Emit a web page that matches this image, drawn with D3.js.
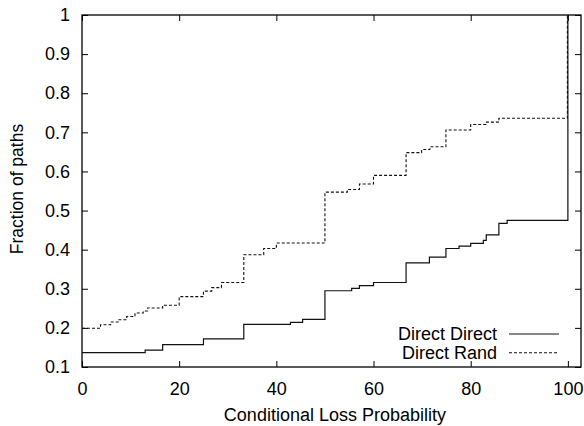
<!DOCTYPE html>
<html>
<head>
<meta charset="utf-8">
<script src="https://cdn.jsdelivr.net/npm/d3@7"></script>
<style>
  body { margin: 0; background: #fff; }
  svg text { font-family: "Liberation Sans", Arial, Helvetica, sans-serif; fill: #000; }
</style>
</head>
<body>
<div id="chart"></div>
<script>
// step data
var directDirectX = [0, 13.0, 16.6, 25.0, 33.3, 42.9, 45.4, 50.0, 55.5, 57.1, 60.0, 66.7, 71.5, 74.9, 77.6, 80.0, 82.6, 83.2, 85.8, 87.5, 100];
var directDirectY = [0.137, 0.143, 0.157, 0.172, 0.209, 0.214, 0.222, 0.295, 0.301, 0.308, 0.316, 0.366, 0.381, 0.403, 0.409, 0.416, 0.424, 0.438, 0.467, 0.475, 1.0];

var directRandX = [0, 3.8, 5.9, 7.6, 9.2, 10.9, 12.6, 13.5, 16.6, 20.0, 25.0, 26.7, 28.7, 33.3, 37.4, 40.0, 50.0, 54.6, 57.1, 60.0, 66.7, 69.9, 71.6, 74.9, 80.0, 83.1, 85.8, 99.9];
var directRandY = [0.199, 0.208, 0.215, 0.221, 0.229, 0.238, 0.243, 0.251, 0.258, 0.280, 0.294, 0.303, 0.316, 0.387, 0.403, 0.417, 0.547, 0.554, 0.568, 0.590, 0.648, 0.656, 0.663, 0.706, 0.720, 0.726, 0.736, 1.0];

var xTicks = [0, 20, 40, 60, 80, 100];
var yTicks = [0.1, 0.2, 0.3, 0.4, 0.5, 0.6, 0.7, 0.8, 0.9, 1];
var seriesNames = ["Direct Direct", "Direct Rand"];

var W = 584, H = 426;
// plot frame (window.top is read-only, so no "top" here)
var plotL = 82, plotR = 581, plotT = 15, plotB = 367;
var fontSize = 18;

var x = d3.scaleLinear().domain([0, 102.7]).range([plotL, plotR]);
var y = d3.scaleLinear().domain([0.1, 1]).range([plotB, plotT]);

var svg = d3.select("#chart").append("svg")
  .attr("width", W).attr("height", H);

function pairs(xs, ys) {
  return xs.map(function (v, i) { return [v, ys[i]]; });
}

var line = d3.line()
  .x(function (d) { return x(d[0]); })
  .y(function (d) { return y(d[1]); })
  .curve(d3.curveStepAfter);

// inward ticks on all four sides (gnuplot style)
var tickLen = 6;
var fmtY = function (d) { return d === 1 ? "1" : d3.format(".1f")(d); };

svg.append("g")
  .attr("transform", "translate(0," + plotB + ")")
  .call(d3.axisBottom(x).tickValues(xTicks).tickSize(-tickLen).tickPadding(15).tickFormat(d3.format("d")))
  .call(function (g) { g.select(".domain").remove(); });

svg.append("g")
  .attr("transform", "translate(0," + plotT + ")")
  .call(d3.axisTop(x).tickValues(xTicks).tickSize(-tickLen).tickFormat(""))
  .call(function (g) { g.select(".domain").remove(); });

svg.append("g")
  .attr("transform", "translate(" + plotL + ",0)")
  .call(d3.axisLeft(y).tickValues(yTicks).tickSize(-tickLen).tickPadding(12).tickFormat(fmtY))
  .call(function (g) { g.select(".domain").remove(); });

svg.append("g")
  .attr("transform", "translate(" + plotR + ",0)")
  .call(d3.axisRight(y).tickValues(yTicks).tickSize(-tickLen).tickFormat(""))
  .call(function (g) { g.select(".domain").remove(); });

svg.selectAll(".tick line").attr("stroke", "#000").attr("stroke-width", 1);
svg.selectAll(".tick text").attr("font-size", fontSize)
  .attr("font-family", "Liberation Sans, Arial, sans-serif").attr("fill", "#000");

// frame
svg.append("rect")
  .attr("x", plotL).attr("y", plotT)
  .attr("width", plotR - plotL).attr("height", plotB - plotT)
  .attr("fill", "none").attr("stroke", "#000").attr("stroke-width", 1.3);

// series
svg.append("path")
  .datum(pairs(directDirectX, directDirectY))
  .attr("d", line)
  .attr("fill", "none").attr("stroke", "#111").attr("stroke-width", 1.2);

svg.append("path")
  .datum(pairs(directRandX, directRandY))
  .attr("d", line)
  .attr("fill", "none").attr("stroke", "#111").attr("stroke-width", 1.1)
  .attr("stroke-dasharray", "3,2");

// legend
var legend = svg.append("g");
seriesNames.forEach(function (name, i) {
  var ly = 334 + i * 18.7;
  legend.append("text")
    .attr("x", 497).attr("y", ly).attr("dy", "0.35em")
    .attr("text-anchor", "end").attr("font-size", fontSize)
    .text(name);
  legend.append("line")
    .attr("x1", 509).attr("x2", 559).attr("y1", ly).attr("y2", ly)
    .attr("stroke", "#111").attr("stroke-width", i === 0 ? 1.2 : 1.1)
    .attr("stroke-dasharray", i === 0 ? null : "3,2");
});

// axis titles
svg.append("text")
  .attr("x", (x(0) + x(100)) / 2 + 10).attr("y", 420.5)
  .attr("text-anchor", "middle").attr("font-size", fontSize)
  .text("Conditional Loss Probability");

svg.append("text")
  .attr("transform", "translate(23," + ((plotT + plotB) / 2 - 2) + ") rotate(-90)")
  .attr("text-anchor", "middle").attr("font-size", 17.5)
  .text("Fraction of paths");
</script>
</body>
</html>
